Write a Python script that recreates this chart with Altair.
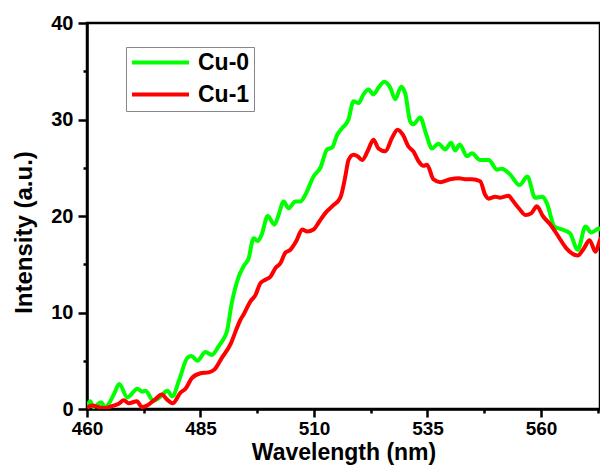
import altair as alt
import pandas as pd

# ---- data ----
cu0_nm = [460.0, 460.7, 461.4, 463.1, 464.0, 465.9, 467.1, 468.9, 471.1, 472.2, 472.9, 474.6,
          476.0, 477.7, 478.8, 480.3, 482.1, 483.0, 484.3, 486.1, 487.5, 489.0, 490.0, 490.8,
          491.9, 493.4, 494.5, 495.6, 496.7, 497.6, 498.5, 499.8, 501.3, 502.2, 503.3, 504.4,
          505.9, 507.0, 508.1, 509.9, 511.4, 512.9, 514.0, 515.1, 516.2, 517.6, 518.7, 519.8,
          520.9, 522.0, 523.1, 524.2, 525.5, 526.8, 527.9, 529.2, 530.1, 531.2, 531.9, 533.4,
          534.7, 536.0, 537.4, 538.9, 540.2, 541.1, 542.1, 543.7, 544.8, 546.6, 548.5, 550.3,
          551.4, 553.2, 555.3, 557.0, 558.7, 560.4, 561.3, 563.0, 564.7, 566.4, 568.1, 569.8,
          571.1, 572.8, 573.7, 574.5]
cu0_int = [0.3, 0.8, 0.2, 0.7, 0.2, 1.5, 2.6, 1.2, 2.1, 1.8, 1.9, 0.85,
           1.2, 1.9, 1.3, 3.0, 5.3, 5.5, 5.0, 5.9, 5.6, 6.5, 7.2, 8.0,
           11.0, 13.7, 14.8, 15.6, 17.7, 17.4, 18.1, 20.0, 19.1, 20.1, 21.5, 20.8,
           21.5, 21.5, 22.2, 24.1, 25.0, 26.9, 27.1, 28.4, 29.1, 30.0, 31.9, 31.7,
           32.6, 33.1, 32.6, 33.3, 33.9, 33.3, 32.1, 33.4, 32.7, 29.8, 29.5, 30.2,
           28.5, 27.0, 27.5, 26.9, 27.6, 26.8, 27.4, 26.2, 26.5, 25.8, 25.8, 24.8,
           24.9, 24.3, 23.2, 24.1, 21.9, 22.0, 21.3, 18.9, 18.6, 18.2, 16.5, 18.9,
           18.3, 18.7, 18.4, 19.3]

cu1_nm = [460.0, 461.1, 462.6, 464.0, 465.5, 467.0, 468.1, 469.2, 471.0, 472.1, 473.2, 475.0,
          476.5, 477.6, 478.9, 480.6, 481.7, 483.1, 485.0, 486.8, 488.1, 489.7, 491.7, 492.7,
          493.8, 494.5, 496.0, 497.1, 498.2, 499.3, 500.4, 501.5, 502.6, 503.7, 504.8, 506.1,
          507.4, 508.5, 509.9, 511.0, 512.5, 514.0, 515.8, 516.9, 517.6, 518.7, 519.6, 520.6,
          521.8, 523.1, 524.2, 525.7, 527.2, 528.4, 529.6, 530.8, 531.9, 533.0, 534.1, 534.9,
          536.3, 537.8, 540.0, 541.9, 543.7, 544.8, 546.6, 547.7, 548.5, 549.9, 551.0, 552.9,
          553.6, 555.3, 556.6, 557.9, 559.1, 560.4, 562.1, 563.8, 565.5, 568.1, 569.4, 570.7,
          572.0, 573.2, 574.5]
cu1_int = [0.1, 0.35, 0.2, 0.1, 0.3, 0.55, 0.9, 0.6, 0.8, 0.2, 0.35, 1.0,
           1.5, 1.0, 0.6, 1.7, 2.1, 3.2, 3.7, 3.8, 4.1, 5.3, 6.8, 8.0,
           9.25, 9.8, 11.15, 11.8, 13.05, 13.4, 13.7, 14.6, 15.1, 16.2, 16.5, 17.4,
           18.6, 18.4, 18.6, 19.3, 20.3, 21.0, 21.9, 24.1, 25.8, 26.35, 26.2, 25.8,
           26.7, 27.9, 27.0, 26.7, 28.1, 28.95, 28.4, 27.2, 26.7, 25.7, 25.2, 25.3,
           23.8, 23.5, 23.8, 23.9, 23.8, 23.8, 23.6, 22.2, 21.8, 22.0, 21.9, 22.1,
           21.7, 20.7, 20.1, 20.3, 21.0, 20.0, 19.1, 17.9, 16.7, 15.9, 16.6, 17.5,
           16.3, 17.7, 18.0]

series_names = ["Cu-0", "Cu-1"]
series_colors = ["#00FF00", "#FF0000"]

x_ticks = [460, 472.5, 485, 497.5, 510, 522.5, 535, 547.5, 560, 572.5]
y_ticks = [0, 5, 10, 15, 20, 25, 30, 35, 40]

df = pd.concat([
    pd.DataFrame({"nm": cu0_nm, "val": cu0_int, "series": "Cu-0", "order": range(len(cu0_nm))}),
    pd.DataFrame({"nm": cu1_nm, "val": cu1_int, "series": "Cu-1", "order": range(len(cu1_nm))}),
])

FONT = "Liberation Sans"

chart = alt.Chart(df).mark_line(strokeWidth=4, interpolate="monotone", clip=True).encode(
    x=alt.X("nm:Q",
            scale=alt.Scale(domain=[460, 573], nice=False, zero=False),
            axis=alt.Axis(title="Wavelength (nm)", values=x_ticks,
                          labelExpr="(datum.value - 460) % 25 === 0 ? datum.label : ''",
                          tickSize={"condition": {"test": "(datum.value - 460) % 25 === 0", "value": 8}, "value": 4},
                          labelFlush=False, labelPadding=2, labelFontSize=19,
                          titleY=50, titleBaseline="alphabetic", titleFontSize=23)),
    y=alt.Y("val:Q",
            scale=alt.Scale(domain=[0, 40], nice=False),
            axis=alt.Axis(title="Intensity (a.u.)", values=y_ticks,
                          labelExpr="datum.value % 10 === 0 ? datum.label : ''",
                          tickSize={"condition": {"test": "datum.value % 10 === 0", "value": 9}, "value": 4},
                          labelPadding=5, titlePadding=14, titleY=209)),
    color=alt.Color("series:N",
                    scale=alt.Scale(domain=series_names, range=series_colors),
                    legend=alt.Legend(title=None, orient="none", legendX=39, legendY=24,
                                      symbolType="M-1,0H5", symbolSize=361, symbolStrokeWidth=4,
                                      labelFontSize=23, labelFont=FONT, labelFontWeight="bold",
                                      labelColor="black", labelOffset=45,
                                      strokeColor="#888888", padding=4, rowPadding=8,
                                      fillColor="white")),
    order="order:Q",
).properties(
    width=513, height=386,
    background="white",
    autosize=alt.AutoSizeParams(type="none"),
    padding={"left": 79, "top": 15, "right": 0, "bottom": 56},
).configure_view(
    stroke="black", strokeWidth=2.5
).configure_axis(
    grid=False,
    domainColor="black", domainWidth=2.5,
    tickColor="black", tickWidth=2.5,
    labelFont=FONT, labelFontSize=20, labelFontWeight="bold", labelColor="black",
    titleFont=FONT, titleFontSize=24, titleFontWeight="bold", titleColor="black",
)

chart.save("out.html", embed_options={"renderer": "svg", "actions": False})
